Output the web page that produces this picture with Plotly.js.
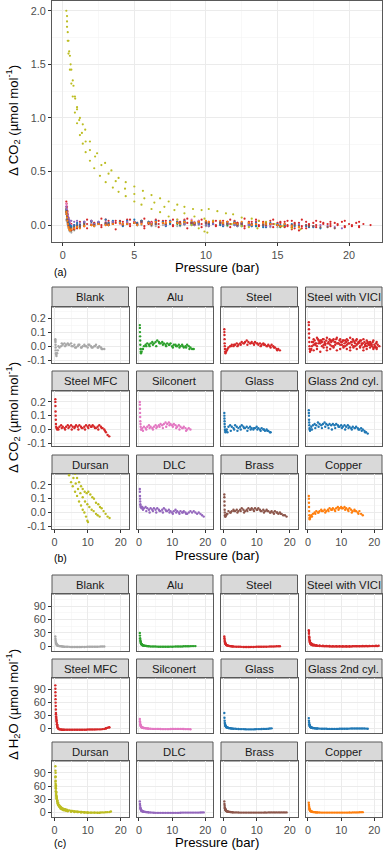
<!DOCTYPE html>
<html><head><meta charset="utf-8">
<script src="https://cdn.plot.ly/plotly-3.0.1.min.js"></script>
<style>html,body{margin:0;padding:0;background:#fff}#chart{width:383px;height:850px}</style>
</head><body><div id="chart"></div><script>
// ---------- categories ----------
const materials = ['Blank','Alu','Steel','Steel with VICI','Steel MFC','Silconert','Glass','Glass 2nd cyl.','Dursan','DLC','Brass','Copper'];
const colors = ['#a8a8a8','#2ca02c','#d62728','#d62728','#d62728','#e377c2','#1f77b4','#1f77b4','#bcbd22','#9467bd','#8c564b','#ff7f0e'];

// ---------- pressure grids (bar) ----------
const pGridA = [0.25,0.27,0.3,0.33,0.36,0.4,0.45,0.5,0.6,0.8,1.0,1.5,2.0,2.5,3.0,3.5,4.0,4.5,5.0,5.5,6.0,6.5,7.0,7.5,8.0,8.5,9.0,9.5,10.0,10.5,11.0,11.5,12.0,12.5,13.0,13.5,14.0,14.5,15.0,15.5,16.0,16.5,17.0,17.5,18.0,18.5,19.0,19.5,20.0,20.5,21.0,21.5];
const pGridB = [1.2,2.2,3.2,4.2,5.2,6.2,7.2,8.2,9.2,10.2,11.2,12.2,13.2,14.2,15.2,16.2,17.2,18.2,19.2,20.2];
const pGridC = [1.7,2.7,3.7,4.7,5.7,6.7,7.7,8.7,9.7,10.7,11.7,12.7,13.7,14.7,15.7,16.7,17.7,18.7,19.7,20.7];
const hGrid = [0.25,0.3,0.35,0.4,0.5,0.6,0.7,0.8,1.0,1.2,1.5,2.0,2.5,3.0,4,5,6,7,8,9,10,11,12,13,14,15,16,17,18,19,20,21];
const hGrid2 = [0.45,0.55,0.65,0.75,0.9,1.1,1.35,1.75,2.25,2.75,3.5,4.5,5.5,6.5,7.5,8.5,9.5,10.5,11.5,12.5,13.5,14.5,15.5,16.5,17.5,18.5,19.5,20.5];

// ---------- Delta CO2 (umol/mol) ----------
const co2_blank = [0.05,0.04,0.03,0.01,-0.01,-0.03,-0.05,-0.06,-0.07,-0.05,-0.03,-0.01,0.0,0.01,0.02,0.01,0.02,0.01,0.02,0.0,0.01,-0.01,0.0,0.01,-0.01,0.0,0.01,0.0,-0.01,0.01,0.0,-0.01,0.0,0.01,-0.01,0.0,-0.01,-0.02,-0.02];
const co2b_blank = [0.0,0.02,0.0,0.01,0.0,-0.01,0.01,-0.01,0.0,0.01,-0.01,0.0,-0.01,-0.02];
const co2_alu = [0.15,0.13,0.1,0.07,0.04,0.01,-0.02,-0.04,-0.05,-0.04,-0.02,0.0,0.01,0.02,0.01,0.02,0.03,0.02,0.03,0.04,0.03,0.02,0.03,0.02,0.01,0.02,0.01,0.02,0.0,0.01,0.01,0.0,0.01,0.0,0.01,-0.01,0.0,0.01,0.0,-0.01,-0.02,-0.02];
const co2b_alu = [-0.02,0.0,0.0,0.01,0.0,0.02,0.01,0.0,0.01,-0.01,0.0,-0.01,0.0,-0.01,-0.02];
const co2_steel = [0.12,0.1,0.08,0.05,0.02,0.0,-0.02,-0.04,-0.05,-0.04,-0.03,-0.01,0.0,0.01,0.0,0.01,0.02,0.01,0.02,0.03,0.02,0.03,0.04,0.03,0.02,0.03,0.02,0.03,0.02,0.01,0.02,0.01,0.02,0.01,0.0,0.01,0.0,0.01,0.0,-0.01,-0.02,-0.02,-0.03];
const co2b_steel = [-0.02,0.0,0.01,0.0,0.01,0.02,0.01,0.02,0.01,0.02,0.0,0.01,0.0,-0.01,-0.01,-0.03];
const co2_vici = [0.17,0.15,0.12,0.09,0.06,0.03,0.0,-0.02,-0.04,-0.03,-0.02,0.03,0.04,0.02,0.05,0.03,0.04,0.05,0.03,0.04,0.02,0.05,0.03,0.04,0.03,0.05,0.02,0.04,0.03,0.04,0.02,0.03,0.04,0.02,0.03,0.05,0.03,0.04,0.02,0.03,0.04,0.02,0.03,0.02,0.03,0.01,0.02,0.03,0.01,0.02,0.01,0.0];
const co2b_vici = [0.0,0.01,0.02,0.0,0.01,0.02,0.0,0.01,0.02,0.01,0.0,0.02,0.01,0.0,0.02,0.01,0.0,0.01,0.0,-0.01];
const co2c_vici = [-0.03,-0.02,-0.04,-0.01,-0.03,-0.02,-0.01,-0.03,-0.02,-0.01,-0.02,-0.03,-0.01,-0.02,-0.01,-0.03,-0.02,-0.01,-0.02,-0.01];
const co2d_vici = [0.05,0.06,0.04,0.05,0.06,0.04,0.05,0.06,0.05,0.04,0.05,0.06,0.04,0.05,0.04,0.05,0.04,0.03,0.04,0.03];
const co2e_vici = [0.03,0.02,0.04,0.03,0.02,0.03,0.04,0.03,0.02,0.03,0.04,0.02,0.03,0.02,0.03,0.02,0.01,0.02,0.01,0.0];
const co2f_vici = [0.01,0.0,0.02,0.01,-0.01,0.01,0.0,0.02,0.01,0.0,0.01,-0.01,0.0,0.01,0.0,-0.01,0.0,0.01,-0.01,-0.02];
const co2_mfc = [0.22,0.2,0.17,0.13,0.1,0.07,0.04,0.02,0.01,0.0,0.01,0.02,0.03,0.02,0.01,0.02,0.03,0.02,0.03,0.02,0.01,0.03,0.02,0.03,0.02,0.01,0.02,0.03,0.02,0.03,0.02,0.03,0.02,0.01,0.02,0.03,0.02,0.01,0.0,-0.02,-0.04,-0.05];
const co2b_mfc = [0.0,0.01,0.0,0.01,0.0,0.02,0.0,0.01,0.0,0.01,0.02,0.01,0.0,0.01,-0.01];
const co2_silconert = [0.2,0.18,0.15,0.12,0.09,0.06,0.04,0.02,0.0,0.0,0.01,0.02,0.01,0.02,0.03,0.02,0.01,0.02,0.03,0.02,0.03,0.04,0.03,0.04,0.05,0.04,0.05,0.04,0.03,0.04,0.03,0.02,0.03,0.02,0.01,0.02,0.01,0.0,0.01,0.0];
const co2b_silconert = [-0.01,0.0,0.01,0.0,0.01,0.02,0.01,0.02,0.03,0.02,0.01,0.0,0.01,-0.01];
const co2_glass = [0.12,0.1,0.08,0.06,0.04,0.02,0.0,-0.01,-0.02,-0.01,0.0,0.02,0.03,0.02,0.01,0.03,0.02,0.01,0.02,0.03,0.02,0.01,0.02,0.01,0.02,0.01,0.0,0.01,0.02,0.01,0.0,0.01,0.0,-0.01,0.0,-0.01,-0.02];
const co2b_glass = [-0.02,-0.01,0.0,-0.01,0.0,0.01,-0.01,0.0,0.01,0.0,-0.01,0.0,-0.01,-0.02];
const co2_glass2 = [0.14,0.12,0.1,0.07,0.05,0.03,0.01,0.0,-0.01,0.0,0.02,0.03,0.04,0.03,0.05,0.04,0.03,0.04,0.05,0.04,0.03,0.04,0.03,0.04,0.03,0.04,0.03,0.02,0.03,0.02,0.03,0.02,0.03,0.02,0.01,0.02,0.01,0.02,0.01,0.0,0.01,0.0,-0.01,-0.02,-0.03];
const co2b_glass2 = [0.0,0.01,0.02,0.01,0.02,0.01,0.0,0.01,0.02,0.01,0.0,0.01,0.0,0.01,0.0,-0.01,-0.02];
const dursanP1 = [0.25,0.3,0.35,0.4,0.5,0.6,0.7,0.85,1.0,1.2,1.4,1.6,1.9,2.2,2.6,3.0,3.5,3.9,4.4,5.0,5.5,6.2,6.8,7.4,8.0,8.5,9.0,9.5,9.9,10.1];
const dursanCO2_1 = [2.0,1.85,1.72,1.6,1.45,1.32,1.2,1.05,0.95,0.84,0.76,0.68,0.6,0.53,0.46,0.4,0.35,0.31,0.27,0.22,0.19,0.15,0.12,0.08,0.05,0.02,0.0,-0.03,-0.06,-0.07];
const dursanP2 = [0.3,0.35,0.45,0.55,0.7,0.85,1.0,1.15,1.34,1.6,1.9,2.26,2.7,3.2,3.7,4.35,5.0,5.7,6.4,7.1,7.8,8.5,9.2,9.9,10.5,11.2,11.8,12.5,13.0,13.6];
const dursanCO2_2 = [1.95,1.8,1.62,1.5,1.35,1.2,1.08,0.98,0.86,0.78,0.7,0.64,0.56,0.48,0.41,0.34,0.29,0.25,0.21,0.17,0.14,0.11,0.08,0.06,0.04,0.02,0.01,-0.01,-0.02,-0.03];
const dursanP3 = [0.3,0.4,0.5,0.6,0.75,0.87,1.0,1.2,1.4,1.57,1.9,2.4,2.96,3.4,3.9,4.4,5.0,5.6,6.2,6.8,7.4,8.0,8.5,9.1,9.7,10.2,10.8,11.4,11.9,12.5,13.2,13.7,14.2,14.8,15.4,16.0,16.6];
const dursanCO2_3 = [1.9,1.72,1.58,1.45,1.3,1.18,1.1,1.0,0.94,0.89,0.78,0.67,0.58,0.51,0.44,0.4,0.36,0.32,0.28,0.25,0.22,0.19,0.17,0.15,0.14,0.15,0.13,0.11,0.1,0.07,0.06,0.04,0.03,0.01,-0.01,-0.03,-0.04];
const co2_dlc = [0.17,0.15,0.12,0.1,0.08,0.06,0.05,0.04,0.04,0.03,0.04,0.03,0.04,0.03,0.02,0.03,0.02,0.03,0.02,0.03,0.02,0.01,0.02,0.03,0.02,0.01,0.02,0.01,0.0,0.01,0.02,0.01,0.0,0.01,0.0,0.01,0.0,-0.01,0.0,0.01,0.0,0.01,0.0,-0.01,0.0,-0.01,-0.02,-0.03];
const co2b_dlc = [0.02,0.01,0.0,0.01,0.0,0.01,0.0,0.01,0.0,-0.01,0.0,-0.01,0.0,-0.01];
const co2_brass = [0.13,0.11,0.08,0.05,0.02,0.0,-0.02,-0.03,-0.03,-0.02,-0.01,0.01,0.0,0.01,0.02,0.01,0.02,0.01,0.02,0.03,0.02,0.01,0.02,0.03,0.02,0.03,0.02,0.03,0.02,0.03,0.02,0.01,0.02,0.01,0.02,0.01,0.0,0.01,0.0,0.01,0.0,-0.01,0.0,-0.01,-0.02,-0.02,-0.03];
const co2b_brass = [-0.01,0.0,0.01,0.0,0.01,0.0,0.01,0.02,0.01,0.02,0.01,0.0,0.01,0.0,-0.01,0.0,-0.01];
const co2_copper = [0.12,0.1,0.07,0.04,0.01,-0.02,-0.04,-0.05,-0.04,-0.03,-0.02,-0.01,0.0,0.01,0.0,0.01,0.02,0.01,0.02,0.01,0.02,0.03,0.02,0.03,0.02,0.03,0.04,0.03,0.04,0.03,0.04,0.03,0.02,0.03,0.02,0.01,0.02,0.01,0.0,0.01,-0.01,-0.02];
const co2b_copper = [-0.03,-0.01,0.0,0.01,0.0,0.01,0.02,0.01,0.02,0.03,0.02,0.01,0.0,0.01,-0.01];

// ---------- Delta H2O (umol/mol) ----------
const h2o_blank = [22,17,13,10,7,5,3.5,2.5,1.5,1,0.5,0,-0.5,-1,-1,-1.5,-1.5,-1.5,-1.5,-1.5,-1,-1,-1,-1,-0.5,-0.5];
const h2o2_blank = [8,6,4,3,2,1.2,0.8,0.3,-0.2,-0.8,-1,-1.2,-1.5,-1.5,-1.5,-1.2,-1.2,-1,-1,-1,-0.8,-0.5];
const h2o_alu = [30,24,18,14,10,7,5,4,3,2,1.5,1,0.5,0,-0.5,-0.5,-1,-1,-1,-1,-1,-0.5,-0.5,-0.5,0,0,0.5,0.5];
const h2o2_alu = [12,8.5,6,4.5,3.5,2.5,1.8,1.2,0.7,0.3,-0.3,-0.5,-0.8,-1,-1,-1,-0.8,-0.7,-0.5,-0.3,0,0.2,0.3,0.5];
const h2o_steel = [22,18,14,11,8,6,4.5,3.5,2.5,2,1,0.5,0,-0.5,-1,-1,-1.5,-1.5,-1.5,-1.5,-1,-1,-1,-1,-0.5,-0.5,0,0];
const h2o2_steel = [9.5,7,5,4,3,2.2,1.5,0.8,0.2,-0.3,-0.8,-1,-1.2,-1.5,-1.5,-1.3,-1.2,-1,-1,-0.8,-0.7,-0.5,-0.2,0];
const h2o_vici = [36,28,22,17,12,9,7,5.5,4,3,2.5,2,1.5,1,0.5,0,0,-0.5,-0.5,-0.5,-0.5,-0.5,-0.5,-0.5,0,0,0,0,0,0.5,0.5,0.5];
const h2o2_vici = [14,10,8,6,4.5,3.5,2.8,2.2,1.7,1.2,0.8,0.3,0,-0.3,-0.5,-0.5,-0.5,-0.5,-0.3,-0.3,0,0,0,0,0.3,0.3,0.5,0.5];
const h2oP3_vici = [0.3,0.4,0.6,0.9,1.3,1.8,2.5,3.5,4.5,5.5,6.5,7.5,8.5,9.5,10.5,11.5,12.5,13.5,14.5,15.5,16.5,17.5,18.5,19.5,20.5,21.3];
const h2o3_vici = [32,20,12,7,5,3.5,2.5,2,1.5,1,1,0.5,0.5,0.5,0,0,0,0.5,0.5,0.5,1,1,1,1,1.5,1.5];
const h2oP_mfc = [0.25,0.27,0.29,0.31,0.33,0.35,0.38,0.41,0.45,0.5,0.55,0.6,0.7,0.8,0.9,1.0,1.2,1.5,2,2.5,3,4,5,6,7,8,9,10,11,12,13,14,15,15.5,16,16.5];
const h2o_mfc = [100,92,84,76,68,60,52,44,36,28,22,16,10,6,3,1,-1,-2,-2.5,-3,-3,-3,-3,-3,-3,-3,-3,-2.5,-2.5,-2.5,-2,-2,-1,0,1.5,3];
const h2o2_mfc = [33,25,19,13,8,2,-1.5,-2.2,-2.8,-3,-3,-3,-3,-3,-3,-3,-2.8,-2.5,-2.5,-2.2,-2,-1.5,0.5,2.5];
const h2o_silconert = [22,17,13,10,7,5,4,3,2,1.5,1,0.5,0,-0.5,-1,-1,-1,-1.5,-1.5,-1.5,-1,-1,-1,-1,-1.5,-1.5];
const h2o2_silconert = [8,6,4.5,3.5,2.5,1.8,1.2,0.7,0.2,-0.2,-0.8,-1,-1,-1.2,-1.5,-1.5,-1.2,-1,-1,-1,-1.2,-1.5,-1.8];
const h2o_glass = [36,25,18,13,9,6,4.5,3.5,2.5,2,1,0.5,0,-0.5,-1,-1.5,-1.5,-2,-2,-2,-1.5,-1.5,-1,-1,0];
const h2o2_glass = [11,7.5,5.5,4,3,2.2,1.5,0.8,0.2,-0.3,-0.8,-1.2,-1.5,-1.8,-2,-2,-1.8,-1.5,-1.2,-1,-0.5,0.3];
const h2o_glass2 = [24,18,14,10,7,5,4,3,2,1.5,1,0.5,0,0,-0.5,-0.5,-1,-1,-1,-1,-0.5,-0.5,-0.5,0,0,0,0,0,-0.5];
const h2o2_glass2 = [8.5,6,4.5,3.5,2.5,1.8,1.2,0.7,0.2,0,-0.3,-0.5,-0.8,-1,-1,-1,-0.8,-0.5,-0.5,-0.3,0,0,0,0,-0.3];
const dursanHP1 = [0.25,0.28,0.3,0.33,0.36,0.4,0.45,0.5,0.6,0.7,0.8,1.0,1.2,1.5,1.8,2.2,2.6,3,3.5,4,5,6,7,8,9,10];
const dursanH2O_1 = [120,105,95,82,72,62,54,47,38,31,26,20,16,12,9,7,5.5,4.5,3.5,2.5,1.5,1,0.5,0,-0.5,-1];
const dursanHP2 = [0.3,0.35,0.4,0.5,0.6,0.8,1.0,1.3,1.6,2,2.5,3,3.5,4,5,6,7,8,9,10,11,12,13,13.6];
const dursanH2O_2 = [80,65,55,42,34,26,21,16,13,10,8,6.5,5.5,4.5,3,2,1.5,1,0.5,0,-0.5,-0.5,-1,-1];
const dursanHP3 = [0.3,0.35,0.4,0.5,0.6,0.8,1.0,1.3,1.6,2,2.5,3,3.5,4,5,6,7,8,9,10,11,12,13,14,15,16,16.6,17];
const dursanH2O_3 = [70,58,48,38,31,24,19,15,12,9.5,7.5,6,5,4,3,2,1.5,1,0.5,0,-0.5,-0.5,-0.5,0,0,0.5,1,2];
const dursanHP4 = [0.35,0.45,0.55,0.7,0.9,1.1,1.4,1.7,2.0,2.4,2.8,3.2,3.7,4.5,5.5,6.5,7.5,8.5,9.5,10.5,11.5,12.5,13.5,14.5,15.5];
const dursanH2O_4 = [90,60,46,35,27,22,17,14,12,9.5,8,7,6,4.5,3,2,1.2,0.5,0,-0.5,-0.5,-0.5,-0.5,0,0.5];
const h2o_dlc = [25,19,15,11,8,6,4.5,3.5,2.5,2,1.5,1,0.5,0,-0.5,-1,-1,-1,-1,-1,-1,-1,-1,-0.5,-0.5,-0.5,-0.5,-0.5,-0.5,0];
const h2o2_dlc = [9.5,7,5,4,3,2.2,1.7,1.2,0.7,0.2,-0.3,-0.8,-1,-1,-1,-1,-1,-1,-1,-0.8,-0.5,-0.5,-0.5,-0.5,-0.5,-0.3,0];
const h2o_brass = [25,19,15,11,8,6,4.5,3.5,2.5,2,1.5,1,0.5,0,0,-0.5,-0.5,-0.5,-0.5,-0.5,-0.5,-0.5,-0.5,-0.5,0,0,0,0,0,0];
const h2o2_brass = [9.5,7,5,4,3,2.2,1.7,1.2,0.7,0.2,0,-0.3,-0.5,-0.5,-0.5,-0.5,-0.5,-0.5,-0.5,-0.3,0,0,0,0,0,0];
const h2o_copper = [22,17,13,10,7,5,4,3,2,1.5,1,0.5,0,0,-0.5,-0.5,-0.5,-0.5,-0.5,-0.5,-0.5,-0.5,-0.5,-0.5,0,0,0.5];
const h2o2_copper = [8,6,4.5,3.5,2.5,1.8,1.2,0.7,0.2,0,-0.3,-0.5,-0.5,-0.5,-0.5,-0.5,-0.5,-0.5,-0.5,-0.3,0,0,0.3,0.5];

// ---------- assemble series ----------
function onGrid(grid, vals){ return [grid.slice(0, vals.length), vals]; }
function join(parts){ const x=[],y=[]; parts.forEach(p=>{x.push(...p[0]); y.push(...p[1]);}); return {x,y}; }
const co2Series = [
  join([onGrid(pGridA,co2_blank), onGrid(pGridB,co2b_blank)]),
  join([onGrid(pGridA,co2_alu), onGrid(pGridB,co2b_alu)]),
  join([onGrid(pGridA,co2_steel), onGrid(pGridB,co2b_steel)]),
  join([onGrid(pGridA,co2_vici), onGrid(pGridB,co2b_vici), onGrid(pGridC,co2c_vici), onGrid(pGridC,co2d_vici), onGrid(pGridB,co2e_vici), onGrid(pGridC,co2f_vici)]),
  join([onGrid(pGridA,co2_mfc), onGrid(pGridB,co2b_mfc)]),
  join([onGrid(pGridA,co2_silconert), onGrid(pGridB,co2b_silconert)]),
  join([onGrid(pGridA,co2_glass), onGrid(pGridB,co2b_glass)]),
  join([onGrid(pGridA,co2_glass2), onGrid(pGridB,co2b_glass2)]),
  join([[dursanP1,dursanCO2_1],[dursanP2,dursanCO2_2],[dursanP3,dursanCO2_3]]),
  join([onGrid(pGridA,co2_dlc), onGrid(pGridB,co2b_dlc)]),
  join([onGrid(pGridA,co2_brass), onGrid(pGridB,co2b_brass)]),
  join([onGrid(pGridA,co2_copper), onGrid(pGridB,co2b_copper)])
];
const h2oSeries = [
  join([onGrid(hGrid,h2o_blank), onGrid(hGrid2,h2o2_blank)]),
  join([onGrid(hGrid,h2o_alu), onGrid(hGrid2,h2o2_alu)]),
  join([onGrid(hGrid,h2o_steel), onGrid(hGrid2,h2o2_steel)]),
  join([onGrid(hGrid,h2o_vici), onGrid(hGrid2,h2o2_vici), [h2oP3_vici,h2o3_vici]]),
  join([[h2oP_mfc,h2o_mfc], onGrid(hGrid2,h2o2_mfc)]),
  join([onGrid(hGrid,h2o_silconert), onGrid(hGrid2,h2o2_silconert)]),
  join([onGrid(hGrid,h2o_glass), onGrid(hGrid2,h2o2_glass)]),
  join([onGrid(hGrid,h2o_glass2), onGrid(hGrid2,h2o2_glass2)]),
  join([[dursanHP1,dursanH2O_1],[dursanHP2,dursanH2O_2],[dursanHP3,dursanH2O_3],[dursanHP4,dursanH2O_4]]),
  join([onGrid(hGrid,h2o_dlc), onGrid(hGrid2,h2o2_dlc)]),
  join([onGrid(hGrid,h2o_brass), onGrid(hGrid2,h2o2_brass)]),
  join([onGrid(hGrid,h2o_copper), onGrid(hGrid2,h2o2_copper)])
];

// ---------- layout geometry ----------
const W=383, H=850;
const FONT='Liberation Sans, Arial, Helvetica, sans-serif';
const GRID='#ebebeb', MINOR='#f4f4f4', BORDER='#595959', TICKC='#4d4d4d';
const XR=[-0.75,22.3];
const colL=[52,136.5,221,305.5], colW=76.5;
const bRows=[[307,363],[391,446],[474,529]], bStrips=[[287,307],[371,391],[455,474]];
const cRows=[[594,651],[678,733],[761,817]], cStrips=[[575,594],[659,678],[742,761]];

function axCommon(showLabels){
  return {showgrid:true, gridcolor:GRID, gridwidth:1, zeroline:false, showline:true, mirror:true,
    linecolor:BORDER, linewidth:1, ticks: showLabels?'outside':'', ticklen:3, tickwidth:1, tickcolor:'#333',
    showticklabels:showLabels, tickfont:{size:10.8,color:TICKC,family:FONT}, fixedrange:true};
}
function xAxis(l,r,anchor,show,tv,mv){
  return Object.assign(axCommon(show),{domain:[l/W,r/W],anchor,range:XR,tickmode:'array',tickvals:tv,ticktext:tv.map(String),
    minor:{tickmode:'array',tickvals:mv,showgrid:true,gridcolor:MINOR,gridwidth:0.6}});
}
function yAxis(t,b,anchor,show,range,tv,tt,mv){
  return Object.assign(axCommon(show),{domain:[1-b/H,1-t/H],anchor,range,tickmode:'array',tickvals:tv,ticktext:tt,
    minor:{tickmode:'array',tickvals:mv,showgrid:true,gridcolor:MINOR,gridwidth:0.6}});
}

const layout = {width:W,height:H,autosize:false,margin:{l:0,r:0,t:0,b:0,pad:0},paper_bgcolor:'#fff',plot_bgcolor:'#fff',
  showlegend:false,font:{family:FONT,color:'#000'},shapes:[],annotations:[]};
const traces=[];

// panel (a)
layout.xaxis = xAxis(52,382,'y',true,[0,5,10,15,20],[2.5,7.5,12.5,17.5]);
layout.yaxis = yAxis(1,242,'x',true,[-0.158,2.091],[0,0.5,1,1.5,2],['0.0','0.5','1.0','1.5','2.0'],[0.25,0.75,1.25,1.75]);
materials.forEach((m,k)=>{
  traces.push({type:'scatter',mode:'markers',name:m,x:co2Series[k].x,y:co2Series[k].y,xaxis:'x',yaxis:'y',
    marker:{color:colors[k],size:2.2},hoverinfo:'skip'});
});

function facetBlock(startIdx, rows, strips, series, yRange, ytv, ytt, ymv, msize){
  materials.forEach((m,k)=>{
    const r=Math.floor(k/4), c=k%4, n=startIdx+k;
    const l=colL[c], rr=colL[c]+colW;
    layout['xaxis'+n]=xAxis(l,rr,'y'+n,r===2,[0,10,20],[5,15]);
    layout['yaxis'+n]=yAxis(rows[r][0],rows[r][1],'x'+n,c===0,yRange,ytv,ytt,ymv);
    traces.push({type:'scatter',mode:'markers',name:m,x:series[k].x,y:series[k].y,xaxis:'x'+n,yaxis:'y'+n,
      marker:{color:colors[k],size:msize},hoverinfo:'skip'});
    layout.shapes.push({type:'rect',xref:'paper',yref:'paper',x0:l/W,x1:rr/W,y0:1-strips[r][1]/H,y1:1-strips[r][0]/H,
      fillcolor:'#d9d9d9',line:{color:BORDER,width:1},layer:'below'});
    layout.annotations.push({xref:'paper',yref:'paper',x:(l+colW/2)/W,y:1-(strips[r][0]+strips[r][1])/2/H,
      text:m,showarrow:false,xanchor:'center',yanchor:'middle',font:{size:11.3,color:'#1a1a1a',family:FONT}});
  });
}
facetBlock(2,bRows,bStrips,co2Series,[-0.12,0.279],[-0.1,0,0.1,0.2],['-0.1','0.0','0.1','0.2'],[-0.05,0.05,0.15,0.25],2.4);
facetBlock(14,cRows,cStrips,h2oSeries,[-10.5,117],[0,30,60,90],['0','30','60','90'],[15,45,75,105],2.4);

// titles
function ann(x,y,text,size,opts){ layout.annotations.push(Object.assign({xref:'paper',yref:'paper',x:x/W,y:1-y/H,text,showarrow:false,
  xanchor:'center',yanchor:'middle',font:{size,color:'#000',family:FONT}},opts||{})); }
ann(217,267,'Pressure (bar)',13.2);
ann(217,555,'Pressure (bar)',13.2);
ann(217,842,'Pressure (bar)',13.2);
ann(13,121,'Δ CO<sub>2</sub> (µmol mol<sup>-1</sup>)',13.2,{textangle:-90});
ann(13,418,'Δ CO<sub>2</sub> (µmol mol<sup>-1</sup>)',13.2,{textangle:-90});
ann(13,705,'Δ H<sub>2</sub>O (µmol mol<sup>-1</sup>)',13.2,{textangle:-90});
ann(52,272,'(a)',10.5,{xanchor:'left'});
ann(52,558,'(b)',10.5,{xanchor:'left'});
ann(52,843,'(c)',10.5,{xanchor:'left'});

Plotly.newPlot('chart',traces,layout,{staticPlot:true,displayModeBar:false});
</script></body></html>
